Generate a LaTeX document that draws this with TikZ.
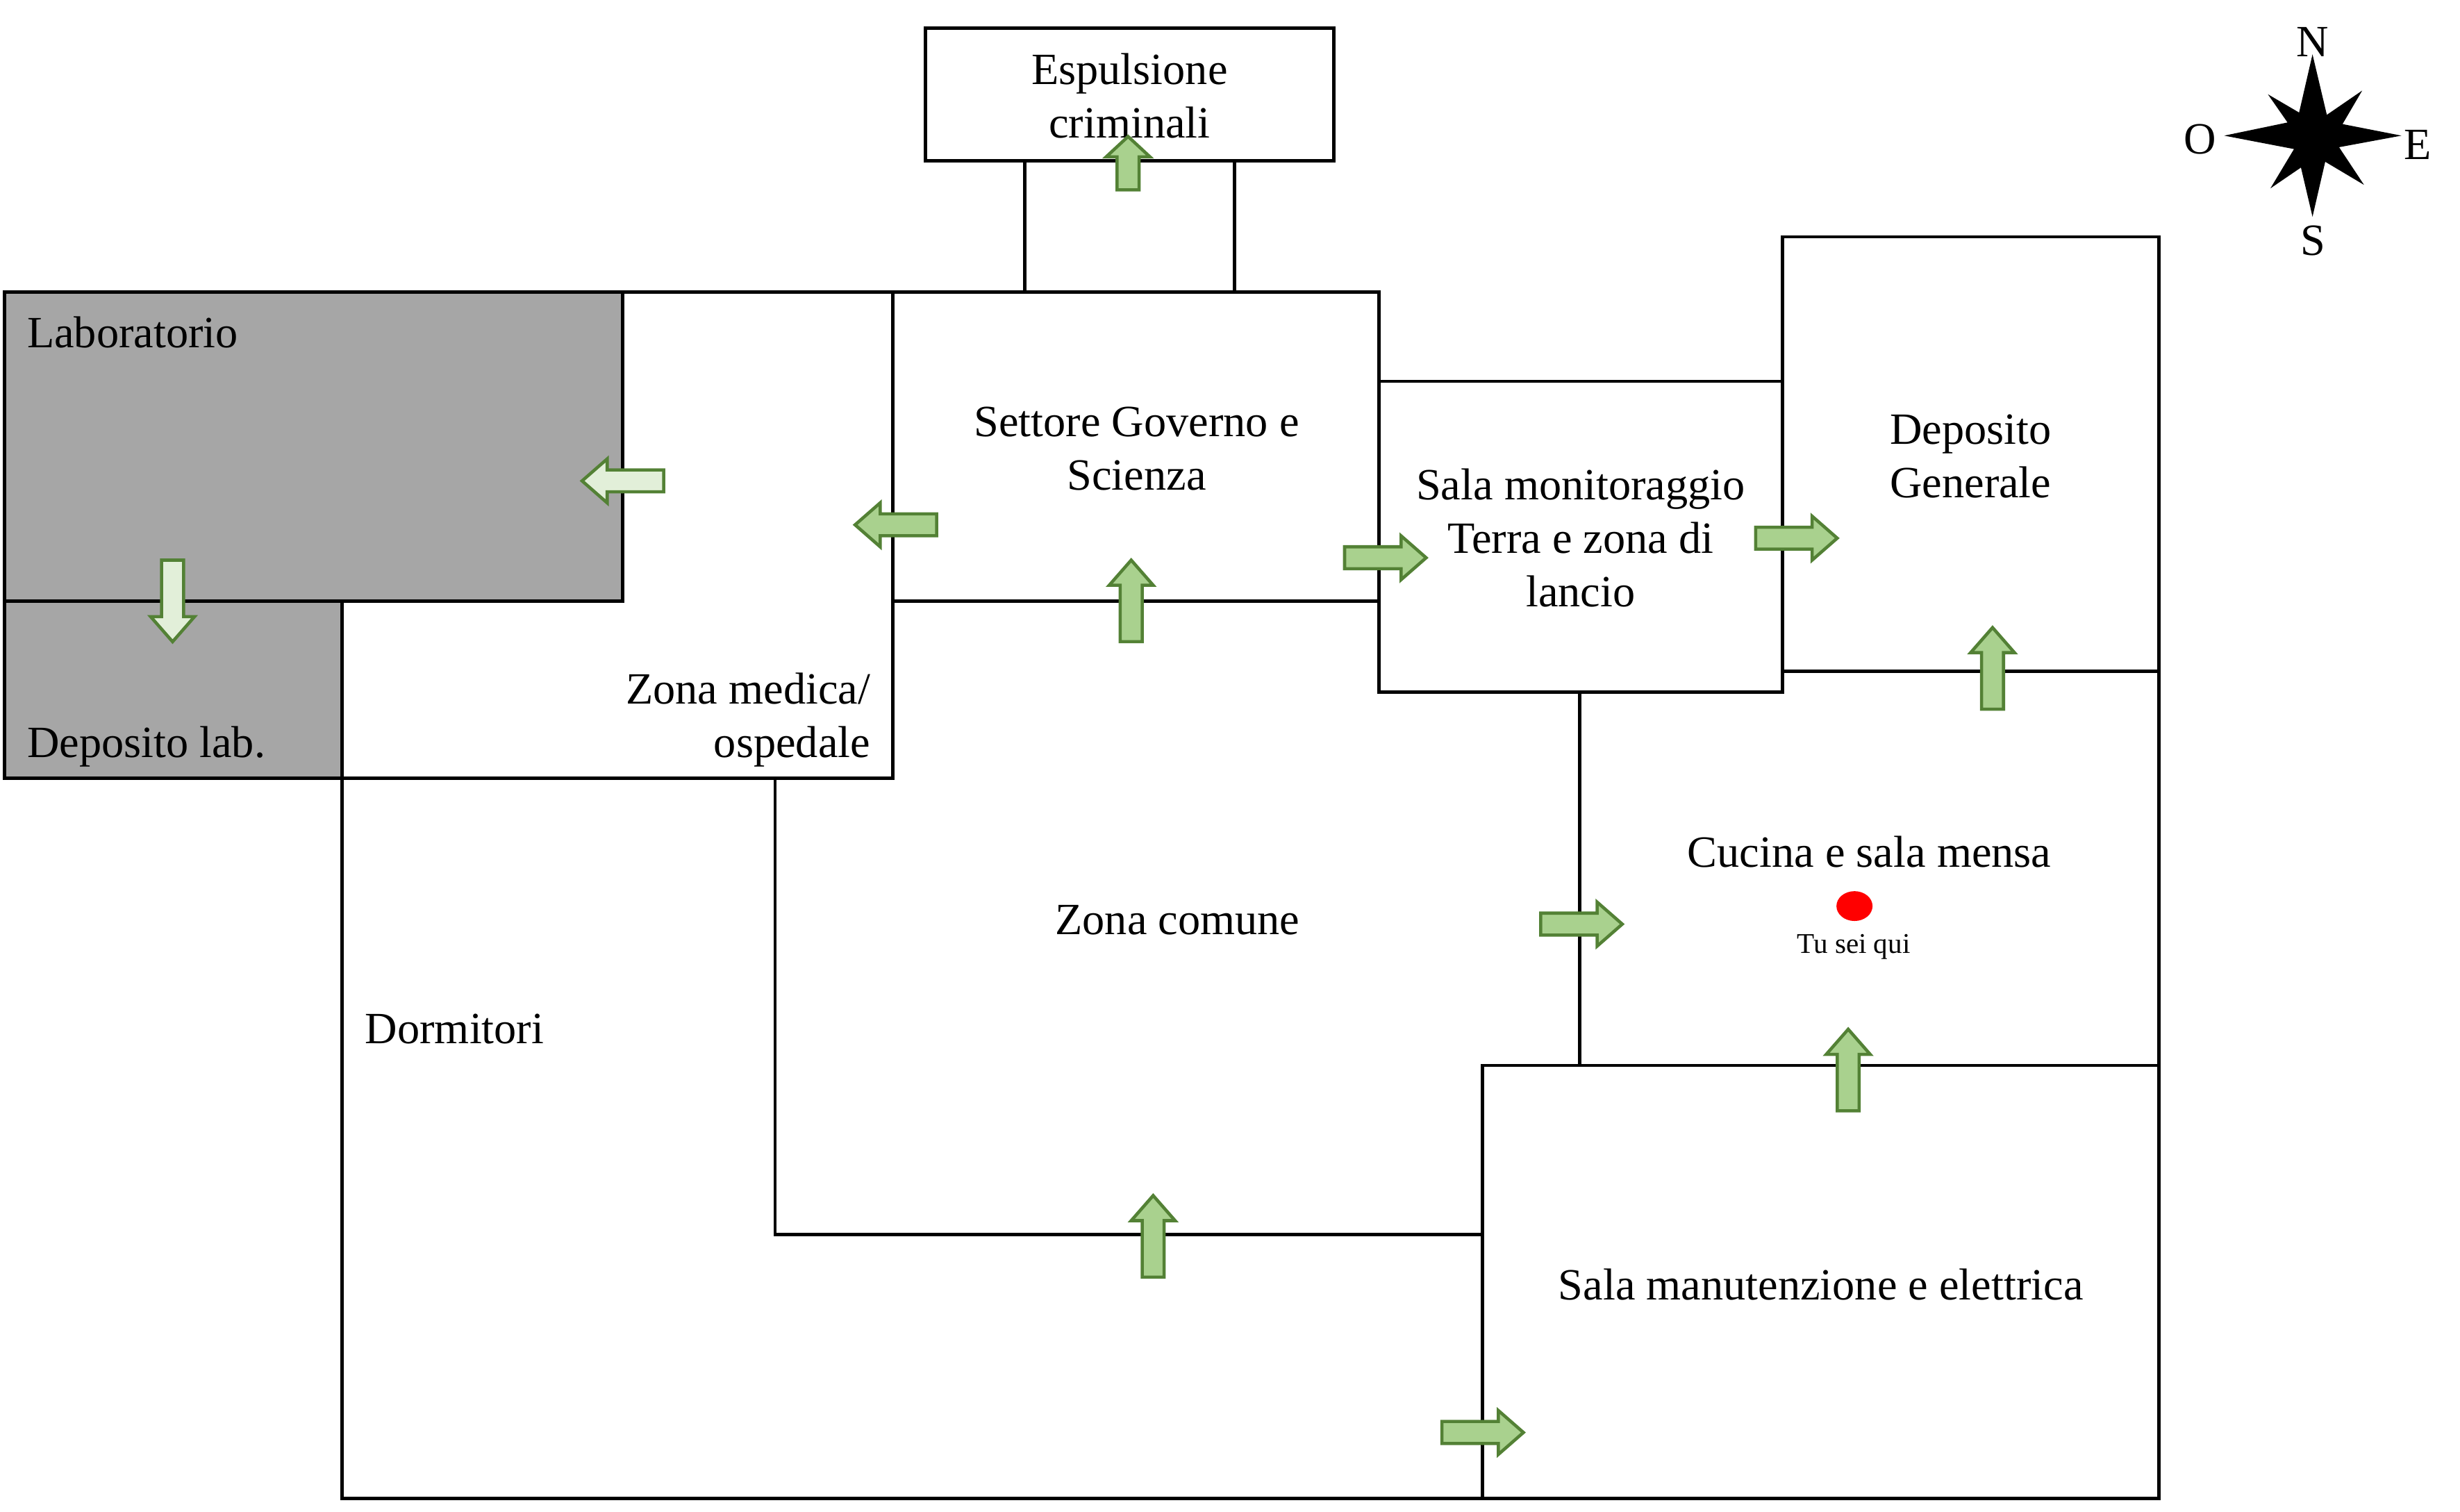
\documentclass[tikz,border=0pt]{standalone}
\usepackage{fontspec}
\setmainfont{Liberation Serif}
\definecolor{labgray}{HTML}{A6A6A6}
\definecolor{arrowline}{HTML}{538135}
\definecolor{arrowfill}{HTML}{A9D18E}
\definecolor{arrowlight}{HTML}{E2EFD9}
\tikzset{
  wall/.style={draw=black,line width=1.35pt,line join=miter},
  graywall/.style={wall,fill=labgray},
  label/.style={inner sep=0pt,align=center,font=\fontsize{18.3}{21.9}\selectfont},
  leftlabel/.style={label,anchor=west,align=left},
  rightlabel/.style={label,anchor=east,align=right},
  small/.style={inner sep=0pt,font=\fontsize{11.7}{14}\selectfont},
  door/.style={draw=arrowline,line width=1.3pt,fill=arrowfill,line join=miter},
  doorlight/.style={door,fill=arrowlight},
  pics/longdoor/.style={code={\path[pic actions] (0,-7)--(36,-7)--(36,-14)--(52,0)--(36,14)--(36,7)--(0,7)--cycle;}},
  pics/shortdoor/.style={code={\path[pic actions] (0,-7)--(21,-7)--(21,-14)--(34,0)--(21,14)--(21,7)--(0,7)--cycle;}},
}
\begin{document}
\begin{tikzpicture}[x=0.02259cm,y=-0.02259cm]
\useasboundingbox (0,0) rectangle (1567.95,963.26);
% gray rooms
\draw[graywall] (3,186) rectangle (397,383);
\draw[graywall] (3,383) rectangle (218,496);
% rooms
\draw[wall] (590,18) rectangle (850,102.5);
\draw[wall] (569,186) rectangle (879,383);
\draw[wall] (397,186) -- (569,186) -- (569,496) -- (218,496) -- (218,383);
\draw[wall] (879,243) rectangle (1136,441);
\draw[wall] (1136,151) rectangle (1376,428);
\draw[wall] (1136,428) -- (1376,428) -- (1376,679);
\draw[wall] (945,679) rectangle (1376,955);
\draw[wall] (218,496) -- (218,955) -- (945,955);
\draw[wall] (494,496) -- (494,787) -- (945,787);
% corridor and partition
\coordinate (corrAtop) at (653,102.5);
\coordinate (corrAbot) at (653,186);
\coordinate (corrBtop) at (787,102.5);
\coordinate (corrBbot) at (787,186);
\coordinate (partTop) at (1007,441);
\coordinate (partBot) at (1007,679);
\draw[wall] (corrAtop) -- (corrAbot);
\draw[wall] (corrBtop) -- (corrBbot);
\draw[wall] (partTop) -- (partBot);
% labels
\node[label] (espulsione) at (720,61) {Espulsione\\criminali};
\node[label] (governo) at (724.5,286) {Settore Governo e\\Scienza};
\node[label] (monitor) at (1007.5,343) {Sala monitoraggio\\Terra e zona di\\lancio};
\node[label] (deposito) at (1256,291) {Deposito\\Generale};
\node[label] (cucina) at (1191.5,543) {Cucina e sala mensa};
\node[label] (comune) at (750.5,586.5) {Zona comune};
\node[leftlabel] (dormitori) at (232.5,656) {Dormitori};
\node[leftlabel] (lab) at (17,212) {Laboratorio};
\node[leftlabel] (deplab) at (17,476) {Deposito lab.};
\node[rightlabel] (medica) at (555,459) {Zona medica/\\ospedale};
\node[label] (manut) at (1160.5,818.5) {Sala manutenzione e elettrica};
% you are here
\fill[red] (1182,577.5) ellipse [x radius=11.5,y radius=9.5];
\node[small] (qui) at (1181.5,603.5) {Tu sei qui};
% doors
\pic[door,rotate=90] at (719,121) {shortdoor};
\pic[door,rotate=90] at (721,409) {longdoor};
\pic[door] at (857,355.5) {longdoor};
\pic[door] at (1119,343) {longdoor};
\pic[door,rotate=90] at (1270,452) {longdoor};
\pic[door,rotate=180] at (597,334.5) {longdoor};
\pic[doorlight,rotate=180] at (423,306.5) {longdoor};
\pic[doorlight,rotate=-90] at (110,357) {longdoor};
\pic[door] at (982,589) {longdoor};
\pic[door,rotate=90] at (1178,708) {longdoor};
\pic[door,rotate=90] at (735,814) {longdoor};
\pic[door] at (919,913) {longdoor};
% compass
\begin{scope}[shift={(1372.3,0)},x=0.003333cm,y=-0.003333cm]
\fill[black] (690,235)--(752,497)--(905,392)--(820,537)--(1075,587)--(805,637)--(913,800)--(745,700)--(690,938)--(640,725)--(508,815)--(610,645)--(308,587)--(582,530)--(497,408)--(632,487)--cycle;
\node[label] (north) at (690,182) {N};
\node[label] (west) at (203,603) {O};
\node[label] (east) at (1146,626) {E};
\node[label] (south) at (692,1040) {S};
\end{scope}
\end{tikzpicture}
\end{document}
